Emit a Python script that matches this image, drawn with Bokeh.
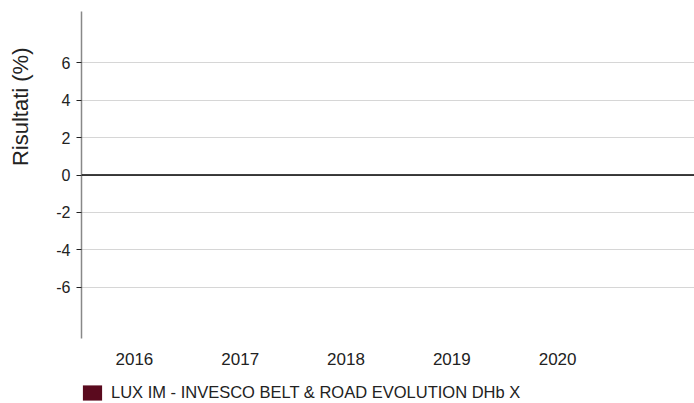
from bokeh.plotting import figure
from bokeh.layouts import column
from bokeh.models import (Range1d, FixedTicker, Span, Title, Legend, LegendItem,
                          LinearAxis, ColumnDataSource)
from bokeh.embed import file_html
from bokeh.resources import INLINE

# ---- data ----
years = ["2016", "2017", "2018", "2019", "2020"]
returns = [float("nan")] * len(years)   # no values shown in the chart
series_name = "LUX IM - INVESCO BELT & ROAD EVOLUTION DHb X"
y_ticks = [-6, -4, -2, 0, 2, 4, 6]
y_label = "Risultati (%)"

FONT = "Liberation Sans"
BAR_COLOR = "#5a0a1e"

xs = [i + 0.5 for i in range(len(years))]
src = ColumnDataSource(dict(x=xs, top=returns))

# ---- main chart ----
p = figure(frame_width=613, frame_height=327, output_backend="svg", toolbar_location=None,
           x_range=Range1d(0, 5.794), y_range=Range1d(-8.75, 8.75),
           min_border_left=81, min_border_right=0, min_border_top=11,
           min_border_bottom=34)
p.outline_line_color = None
p.background_fill_color = "white"
p.border_fill_color = "white"

bars = p.vbar(x="x", top="top", bottom=0, width=0.6, source=src,
              fill_color=BAR_COLOR, line_color=None)

# y axis
p.yaxis.ticker = FixedTicker(ticks=y_ticks)
p.yaxis.major_label_overrides = {t: str(t) for t in y_ticks}
p.yaxis.axis_line_color = "#888888"
p.yaxis.axis_line_width = 1.5
p.yaxis.major_tick_out = 5
p.yaxis.major_tick_in = 0
p.yaxis.major_tick_line_color = "#222222"
p.yaxis.minor_tick_line_color = None
p.yaxis.major_label_text_font = FONT
p.yaxis.major_label_text_font_size = "16px"
p.yaxis.major_label_text_color = "#222222"
p.yaxis.major_label_standoff = 6

# spacer axis (no ticks, no line) to push the axis title outwards
spacer = LinearAxis(ticker=FixedTicker(ticks=[]), axis_line_color=None,
                    major_tick_line_color=None, minor_tick_line_color=None,
                    major_tick_out=0, major_tick_in=0,
                    axis_label=" ", axis_label_text_font_size="1px",
                    axis_label_standoff=17)
p.add_layout(spacer, "left")

# x axis
p.xaxis.ticker = FixedTicker(ticks=xs)
p.xaxis.major_label_overrides = {x: y for x, y in zip(xs, years)}
p.xaxis.axis_line_color = None
p.xaxis.major_tick_line_color = None
p.xaxis.major_tick_out = 0
p.xaxis.major_tick_in = 0
p.xaxis.minor_tick_line_color = None
p.xaxis.major_label_text_font = FONT
p.xaxis.major_label_text_font_size = "17px"
p.xaxis.major_label_text_color = "#222222"
p.xaxis.major_label_standoff = 14

# grid
p.xgrid.grid_line_color = None
p.ygrid.ticker = FixedTicker(ticks=y_ticks)
p.ygrid.grid_line_color = "#d6d6d6"
p.ygrid.grid_line_width = 1

p.add_layout(Span(location=0, dimension="width", line_color="black", line_width=1.5))

p.add_layout(Title(text=y_label, align="right", offset=36, standoff=0,
                   text_font=FONT, text_font_size="22px", text_font_style="normal",
                   text_color="#222222"), "left")

# ---- legend strip ----
lg = figure(frame_width=694, frame_height=31, output_backend="svg", toolbar_location=None,
            x_range=Range1d(0, 1), y_range=Range1d(0, 1),
            x_axis_location=None, y_axis_location=None,
            min_border_left=0, min_border_right=0, min_border_top=0, min_border_bottom=0)
lg.outline_line_color = None
lg.xgrid.grid_line_color = None
lg.ygrid.grid_line_color = None
lg.background_fill_color = "white"
lg.border_fill_color = "white"
lg_bars = lg.vbar(x="x", top="top", bottom=0, width=0.6, source=src,
                  fill_color=BAR_COLOR, line_color=None)

legend = Legend(items=[LegendItem(label=series_name, renderers=[lg_bars])],
                location=(80, 1), orientation="horizontal",
                padding=0, margin=0, spacing=0,
                glyph_width=24, glyph_height=19, label_height=19, label_standoff=7,
                label_text_font=FONT, label_text_font_size="16.5px",
                label_text_color="#222222", border_line_color=None,
                background_fill_alpha=0)
lg.add_layout(legend, "center")

layout = column(p, lg, spacing=0)
open("out.html", "w").write(file_html(layout, INLINE))
